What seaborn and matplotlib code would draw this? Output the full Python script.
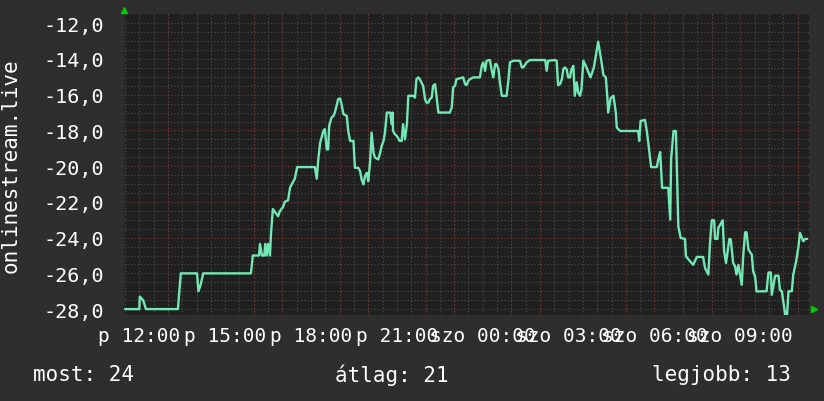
import numpy as np
import pandas as pd
import matplotlib
matplotlib.use("Agg")
import matplotlib.pyplot as plt
import seaborn as sns
from matplotlib.ticker import MultipleLocator

# clock times of the samples (péntek 11:30 -> szombat 11:20) and values
times = ["11:30", "12:00", "12:01", "12:08", "12:14", "13:21", "13:23", "13:27", "14:01", "14:04",
         "14:09", "14:14",
         "15:54", "15:58", "16:11", "16:13", "16:17", "16:22", "16:24", "16:27", "16:30", "16:34",
         "16:36", "16:40",
         "16:51", "16:55", "17:01", "17:05", "17:12", "17:16", "17:26", "17:31", "18:08", "18:12",
         "18:15", "18:19", "18:26", "18:29", "18:33", "18:36", "18:38", "18:43", "18:47", "18:50",
         "18:57", "19:01", "19:04", "19:08", "19:15", "19:18", "19:22", "19:29", "19:32", "19:39",
         "19:43", "19:46", "19:50", "19:53", "19:57", "20:00", "20:04", "20:07", "20:11", "20:14",
         "20:21", "20:25", "20:28", "20:32", "20:35", "20:39", "20:46", "20:49", "20:51", "20:52",
         "20:56", "21:00", "21:06", "21:10", "21:13", "21:17", "21:21", "21:24", "21:34", "21:38",
         "21:41", "21:45", "21:48", "21:55", "21:59", "22:02", "22:06", "22:09", "22:13", "22:16",
         "22:20", "22:23", "22:27", "22:51", "22:55", "22:58", "23:02", "23:05", "23:19", "23:23",
         "23:26", "23:30", "23:33", "23:40", "23:54", "23:58", "00:01", "00:05", "00:08", "00:15",
         "00:19", "00:22", "00:26", "00:29", "00:33", "00:36", "00:40", "00:50", "00:54", "00:57",
         "01:04", "01:18", "01:22", "01:25", "01:32", "01:39", "02:11", "02:14", "02:17", "02:32",
         "02:35", "02:38", "02:42", "02:46", "02:49", "02:52", "02:56", "02:59", "03:03", "03:06",
         "03:10", "03:13", "03:17", "03:20", "03:24", "03:27", "03:31", "03:36", "03:46", "03:53",
         "04:02", "04:08", "04:13", "04:18", "04:21", "04:23", "04:28", "04:34", "04:39", "04:41",
         "04:48", "05:26", "05:28", "05:31", "05:40", "05:44", "05:47", "05:53", "06:05", "06:08",
         "06:12", "06:14", "06:16", "06:29", "06:33", "06:35", "06:40", "06:45", "06:50", "06:55",
         "07:04", "07:06", "07:21", "07:29", "07:42", "07:46", "07:53", "07:56", "08:00", "08:05",
         "08:07", "08:12", "08:14", "08:23", "08:26", "08:30", "08:37", "08:40", "08:45", "08:49",
         "08:52", "08:56", "09:03", "09:06", "09:10", "09:13", "09:17", "09:24", "09:27", "09:31",
         "09:34", "09:55", "09:59", "10:04", "10:06", "10:13", "10:20", "10:23", "10:27", "10:34",
         "10:38", "10:41", "10:48", "10:51", "10:57", "11:02", "11:05", "11:12", "11:16", "11:20"]
values = [-28.0, -28.0, -27.3, -27.5, -28.0, -28.0, -27.3, -26.0, -26.0, -27.0,
          -26.6, -26.0,
          -26.0, -25.0, -25.0, -24.35, -25.0, -25.0, -24.35, -25.0, -24.35, -25.0,
          -23.8, -22.4,
          -22.8, -22.5, -22.3, -22.0, -21.9, -21.2, -20.7, -20.05, -20.05, -20.7,
          -19.7, -18.7, -18.03, -17.93, -19.06, -19.06, -17.75, -17.28, -17.19, -17.0,
          -16.25, -16.21, -16.53, -17.09, -17.19, -18.03, -18.59, -18.59, -20.09, -20.09,
          -20.28, -20.74, -21.02, -20.56, -20.37, -20.84, -19.71, -18.12, -19.25, -19.52,
          -19.62, -19.25, -18.87, -18.59, -18.12, -17.0, -17.0, -17.65, -17.0, -18.03,
          -18.22, -18.31, -18.59, -18.59, -17.65, -18.5, -17.65, -16.06, -16.06, -16.16,
          -15.13, -15.03, -15.13, -15.5, -16.25, -16.44, -16.44, -16.25, -16.16, -15.5,
          -15.41, -16.06, -17.0, -17.0, -16.72, -15.59, -15.5, -15.13, -15.03, -15.41,
          -15.46, -15.22, -15.13, -15.03, -15.03, -14.38, -14.19, -14.66, -14.1, -14.06,
          -14.66, -15.03, -14.29, -14.29, -14.57, -15.31, -16.06, -16.06, -15.13, -14.19,
          -14.1, -14.1, -14.47, -14.47, -14.19, -14.06, -14.06, -14.66, -14.1, -14.06,
          -14.1, -15.46, -15.41, -15.13, -14.57, -14.47, -14.57, -15.03, -15.03, -14.57,
          -14.38, -16.06, -15.31, -15.87, -16.06, -15.69, -14.1, -14.38, -15.03, -14.47,
          -13.03, -14.0, -14.9, -15.03, -16.06, -17.0, -16.2, -16.06, -17.0, -17.84,
          -18.03, -18.03, -18.59, -17.47, -17.41, -18.03, -18.68, -20.05, -20.05, -19.62,
          -19.21, -20.18, -21.21, -21.21, -22.99, -19.58, -18.03, -18.03, -23.37, -24.02,
          -24.07, -25.05, -25.52, -25.08, -25.08, -25.7, -26.07, -24.49, -23.03, -23.03,
          -24.07, -24.07, -23.45, -23.03, -24.77, -25.42, -24.07, -24.1, -25.42, -25.61,
          -26.07, -25.52, -26.64, -25.05, -23.7, -23.7, -24.67, -24.95, -25.89, -26.17,
          -27.01, -27.0, -25.95, -25.95, -27.2, -26.13, -26.13, -26.92, -27.0, -28.3,
          -28.3, -27.0, -27.0, -26.07, -25.33, -24.49, -23.73, -24.2, -24.07, -24.07]

tick_hours = [0, 3, 6, 9, 12, 15, 18, 21]
tick_labels = ["p 12:00", "p 15:00", "p 18:00", "p 21:00",
               "szo 00:00", "szo 03:00", "szo 06:00", "szo 09:00"]
y_ticks = [-28, -26, -24, -22, -20, -18, -16, -14, -12]

most, atlag, legjobb = 24, 21, 13

# hours relative to péntek 12:00
t = pd.to_datetime(times, format="%H:%M")
h = t.hour + t.minute / 60.0
hours = ((h - 11.5) % 24) - 0.5
df = pd.DataFrame({"hours": hours, "value": values})

bg = "#2e2e2e"
plotbg = "#202020"
sns.set_theme(style="dark", rc={"figure.facecolor": bg, "axes.facecolor": plotbg,
                                "text.color": "white", "xtick.color": "white",
                                "ytick.color": "white", "axes.labelcolor": "white"})
plt.rcParams["font.family"] = ["DejaVu Sans Mono", "DejaVu Sans"]

fig = plt.figure(figsize=(8.24, 4.02), dpi=100)
ax = fig.add_axes([124 / 824, 1 - 316 / 402, 685 / 824, (316 - 14.6) / 402])

sns.lineplot(data=df, x="hours", y="value", ax=ax, color="#72e8b4",
             linewidth=1.7, zorder=3)

ax.set_xlim((124 - 139.3) / 28.62, (809 - 139.3) / 28.62)
ax.set_ylim(-28.33, -11.46)

# grid: minor every 30 min / 0.5, major every hour / 2
ax.set_xticks(tick_hours, labels=tick_labels)
ax.set_xticks(np.arange(-0.5, 23.5, 0.5), minor=True)
ax.set_yticks(y_ticks, labels=[f"{v:.1f}".replace(".", ",") for v in y_ticks])
ax.set_yticks(np.arange(-28, -11.9, 0.5), minor=True)
ax.grid(True, which="minor", color="#4e4e4e", linestyle=(0, (1, 2)), linewidth=0.8)
ax.grid(False, which="major")
for hh in np.arange(0, 24, 1):
    ax.axvline(hh, color="#7a3636", linestyle=(0, (1, 2)), linewidth=0.8, zorder=1)
for yy in y_ticks:
    ax.axhline(yy, color="#7a3636", linestyle=(0, (1, 2)), linewidth=0.8, zorder=1)
ax.set_axisbelow(True)
ax.tick_params(axis="x", which="major", labelsize=14, pad=5, length=3, color="#7a3636")
ax.tick_params(axis="x", which="minor", length=2, color="#555555")
ax.tick_params(axis="y", which="major", labelsize=14.5, pad=14, length=0)
ax.tick_params(axis="y", which="minor", length=0)
for s in ax.spines.values():
    s.set_visible(False)

ax.set_xlabel("")
ax.set_ylabel("onlinestream.live", fontsize=15)
ax.yaxis.set_label_coords((21 - 124) / 685, 0.5)

# rrdtool style arrows
ax.plot([0], [1.012], marker="^", color="#00cc00", markersize=5,
        transform=ax.transAxes, clip_on=False)
ax.plot([1.007], [0.02], marker=">", color="#00cc00", markersize=5,
        transform=ax.transAxes, clip_on=False)

fig.text(33 / 824, 1 - 375 / 402, f"most: {most}", fontsize=15, va="center", ha="left")
fig.text(392 / 824, 1 - 375 / 402, f"átlag: {atlag}", fontsize=15, va="center", ha="center")
fig.text(791 / 824, 1 - 375 / 402, f"legjobb: {legjobb}", fontsize=15, va="center", ha="right")

fig.savefig("out.png", dpi=100, facecolor=bg)
